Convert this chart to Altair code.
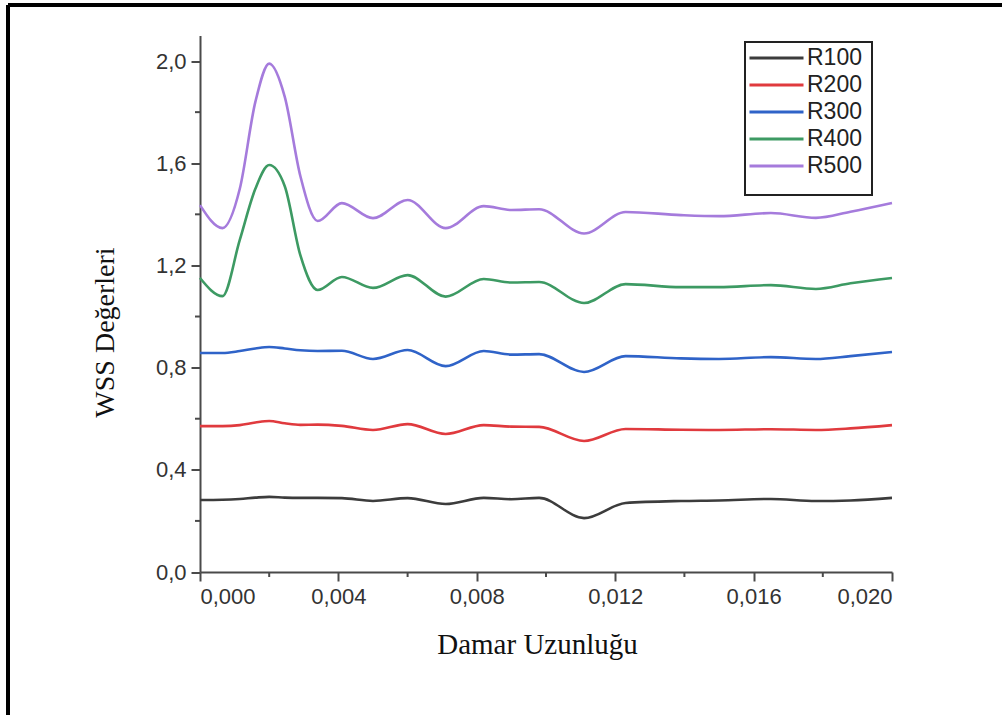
import altair as alt
import pandas as pd

# Position along the vessel (m)
x_pos = [0.0, 0.00065, 0.00115, 0.0016, 0.002, 0.00245, 0.0029, 0.0034, 0.0041,
         0.005, 0.006, 0.0071, 0.0082, 0.009, 0.0098, 0.0111, 0.0123, 0.0139,
         0.015, 0.0165, 0.0178, 0.0188, 0.02]

# Wall shear stress for each case
r100 = [0.282, 0.283, 0.286, 0.291, 0.294, 0.291, 0.290, 0.290, 0.289,
        0.278, 0.289, 0.266, 0.290, 0.285, 0.290, 0.211, 0.270, 0.278,
        0.280, 0.286, 0.278, 0.280, 0.290]
r200 = [0.571, 0.571, 0.575, 0.585, 0.591, 0.582, 0.576, 0.577, 0.572,
        0.556, 0.579, 0.540, 0.575, 0.569, 0.568, 0.513, 0.560, 0.557,
        0.556, 0.559, 0.556, 0.562, 0.575]
r300 = [0.857, 0.857, 0.865, 0.875, 0.881, 0.875, 0.868, 0.865, 0.866,
        0.834, 0.869, 0.806, 0.865, 0.851, 0.853, 0.783, 0.845, 0.836,
        0.834, 0.841, 0.834, 0.845, 0.861]
r400 = [1.151, 1.080, 1.300, 1.500, 1.593, 1.510, 1.240, 1.104, 1.155,
        1.112, 1.162, 1.078, 1.147, 1.133, 1.135, 1.053, 1.127, 1.115,
        1.115, 1.123, 1.108, 1.130, 1.151]
r500 = [1.436, 1.346, 1.500, 1.840, 1.990, 1.860, 1.550, 1.374, 1.444,
        1.385, 1.456, 1.346, 1.432, 1.417, 1.420, 1.325, 1.409, 1.397,
        1.393, 1.405, 1.386, 1.410, 1.444]

series_names = ["R100", "R200", "R300", "R400", "R500"]
series_colors = ["#3c3c3c", "#e03a3e", "#2f63c8", "#3d9a63", "#a57bdc"]

# Axis ticks: labelled (major) and unlabelled (minor)
x_major = [0.0, 0.004, 0.008, 0.012, 0.016, 0.02]
x_minor = [0.002, 0.006, 0.010, 0.014, 0.018]
y_major = [0.0, 0.4, 0.8, 1.2, 1.6, 2.0]
y_minor = [0.2, 0.6, 1.0, 1.4, 1.8]

rows = []
for name, vals in zip(series_names, [r100, r200, r300, r400, r500]):
    for xv, yv in zip(x_pos, vals):
        rows.append({"x": xv, "wss": yv, "seri": name})
df = pd.DataFrame(rows)
df_xminor = pd.DataFrame({"x": x_minor})
df_yminor = pd.DataFrame({"wss": y_minor})

W, H = 692, 536.5
LEFT, TOP = 200, 35.5
axis_col = "#4a4a4a"
sans = "Liberation Sans"
serif = "Liberation Serif"

x_scale = alt.Scale(domain=[0, 0.02], nice=False, zero=False)
y_scale = alt.Scale(domain=[0, 2.1], nice=False)

x_axis = alt.Axis(
    values=x_major,
    labelExpr="replace(format(datum.value, '.3f'), '.', ',')",
    tickSize=9, grid=False, domainColor=axis_col, domainWidth=2,
    tickColor=axis_col, tickWidth=2,
    labelFont=sans, labelFontSize=22, labelColor="#333333", labelPadding=5,
    title="Damar Uzunluğu", titleFont=serif, titleFontSize=29, titleFontWeight="normal",
    titleColor="#111111", titleX=337, titleY=81, titleBaseline="alphabetic", titleAlign="center",
)
y_axis = alt.Axis(
    values=y_major,
    labelExpr="replace(format(datum.value, '.1f'), '.', ',')",
    tickSize=9, grid=False, domainColor=axis_col, domainWidth=2,
    tickColor=axis_col, tickWidth=2,
    labelFont=sans, labelFontSize=22, labelColor="#333333", labelPadding=5,
    title="WSS Değerleri", titleFont=serif, titleFontSize=28, titleFontWeight="normal",
    titleColor="#111111", titleAngle=-90, titleX=-87, titleY=296.5,
    titleBaseline="alphabetic", titleAlign="center",
)

lines = alt.Chart(df).mark_line(strokeWidth=2.6, interpolate="monotone").encode(
    x=alt.X("x:Q", scale=x_scale, axis=x_axis),
    y=alt.Y("wss:Q", scale=y_scale, axis=y_axis),
    color=alt.Color(
        "seri:N",
        scale=alt.Scale(domain=series_names, range=series_colors),
        legend=alt.Legend(
            orient="none", legendX=564, legendY=10, title=None,
            symbolType="M-2.5,0H2.5", symbolSize=467, symbolStrokeWidth=3,
            labelFont=sans, labelFontSize=23, labelColor="#222222",
            labelOffset=18, rowPadding=2, padding=0,
        ),
    ),
    detail="seri:N",
)

# Minor ticks on both axes
x_minor_ticks = alt.Chart(df_xminor).mark_rule(color=axis_col, strokeWidth=2).encode(
    x=alt.X("x:Q", scale=x_scale), y=alt.value(H), y2=alt.value(H + 5)
)
y_minor_ticks = alt.Chart(df_yminor).mark_rule(color=axis_col, strokeWidth=2).encode(
    y=alt.Y("wss:Q", scale=y_scale), x=alt.value(-5), x2=alt.value(0)
)

# Box around the legend
legend_box = alt.Chart(df).mark_rect(fill=None, stroke="#222222", strokeWidth=1.6).encode(
    x=alt.value(545), x2=alt.value(672), y=alt.value(6.2), y2=alt.value(159.5)
)

# Outer frame (left and top edges)
frame_left = alt.Chart(df).mark_rule(color="#000000", strokeWidth=2.5).encode(
    x=alt.value(8 - LEFT), y=alt.value(5 - TOP), y2=alt.value(715 - TOP)
)
frame_top = alt.Chart(df).mark_rule(color="#000000", strokeWidth=2.5).encode(
    y=alt.value(5 - TOP), x=alt.value(8 - LEFT), x2=alt.value(1002 - LEFT)
)

chart = alt.layer(lines, x_minor_ticks, y_minor_ticks, legend_box, frame_left, frame_top).properties(
    width=W, height=H,
    autosize=alt.AutoSizeParams(type="none"),
    padding={"left": LEFT, "top": TOP, "right": 1002 - LEFT - W, "bottom": 715 - TOP - H},
    background="white",
).configure_view(stroke=None)

chart.save("out.html", embed_options={"renderer": "svg", "actions": False})
